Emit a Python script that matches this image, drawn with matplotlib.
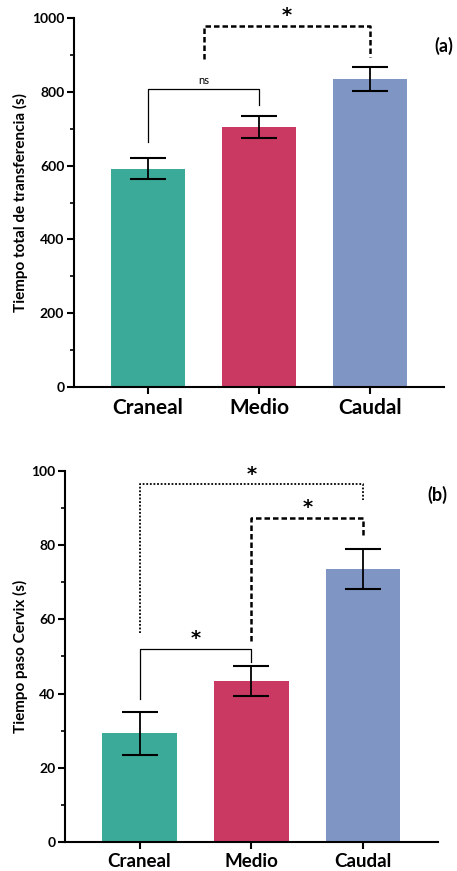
import numpy as np
import matplotlib.pyplot as plt

plt.rcParams['font.family'] = ['Lato', 'DejaVu Sans']

groups = ['Craneal', 'Medio', 'Caudal']
colors = ['#3caa98', '#c93962', '#7f95c4']

# panel (a): tiempo total de transferencia
total_mean = [592, 705, 834]
total_err = [28, 30, 33]

# panel (b): tiempo paso cervix
cervix_mean = [29.3, 43.4, 73.5]
cervix_err = [5.8, 4.0, 5.4]

fig = plt.figure(figsize=(4.57, 8.71), dpi=100)
ax1 = fig.add_axes([0.162, 0.5557, 0.8096, 0.4236])
ax2 = fig.add_axes([0.1422, 0.0330, 0.8156, 0.4266])


def style_axis(ax, ymax, major, xfs):
    x = np.arange(len(groups))
    ax.set_xlim(-0.667, 2.667)
    ax.set_ylim(0, ymax)
    ax.set_xticks(x)
    ax.set_xticklabels(groups, fontsize=xfs, fontweight='bold')
    ax.set_yticks(np.arange(0, ymax + 1, major))
    ax.set_yticks(np.arange(major / 2, ymax, major), minor=True)
    for lab in ax.get_yticklabels():
        lab.set_fontweight('bold')
        lab.set_fontsize(10)
    ax.spines['top'].set_visible(False)
    ax.spines['right'].set_visible(False)
    ax.spines['left'].set_linewidth(1.5)
    ax.spines['bottom'].set_linewidth(1.5)
    ax.tick_params(axis='both', which='major', length=5, width=1.5, pad=2)
    ax.tick_params(axis='y', which='minor', length=3, width=1.2)
    ax.tick_params(axis='x', pad=3)


def bracket(ax, x0, x1, y, y0, y1, ls, lw, label, ty, fs):
    ax.plot([x0, x0, x1, x1], [y0, y, y, y1], color='black', ls=ls, lw=lw, clip_on=False)
    if label == '*':
        ax.text((x0 + x1) / 2, ty, label, ha='center', va='center', fontsize=fs,
                fontweight='bold', family='DejaVu Sans', clip_on=False)
    else:
        ax.text((x0 + x1) / 2, ty, label, ha='center', va='center', fontsize=fs,
                clip_on=False)


x = np.arange(len(groups))

# --- (a)
ax1.bar(x, total_mean, width=0.667, color=colors, zorder=2)
ax1.errorbar(x, total_mean, yerr=total_err, fmt='none', ecolor='black',
             elinewidth=1.3, capsize=13, capthick=1.5, zorder=3)
style_axis(ax1, 1000, 200, 15)
ax1.set_ylabel('Tiempo total de transferencia (s)', fontsize=11, fontweight='bold', labelpad=3)
bracket(ax1, 0, 1, 809, 665, 764, '-', 0.9, 'ns', 832, 8)
bracket(ax1, 0.5, 2, 978, 889, 895, (0, (2.2, 1.2)), 1.8, '*', 1008, 14)
ax1.text(1.0, 0.925, '(a)', transform=ax1.transAxes, ha='center', va='center',
         fontsize=13, fontweight='bold')

# --- (b)
ax2.bar(x, cervix_mean, width=0.667, color=colors, zorder=2)
ax2.errorbar(x, cervix_mean, yerr=cervix_err, fmt='none', ecolor='black',
             elinewidth=1.3, capsize=13, capthick=1.5, zorder=3)
style_axis(ax2, 100, 20, 13.5)
ax2.set_ylabel('Tiempo paso Cervix (s)', fontsize=11, fontweight='bold', labelpad=2)
bracket(ax2, 0, 1, 51.9, 38.5, 48.4, '-', 0.9, '*', 54.8, 14)
bracket(ax2, 1, 2, 87.4, 54.2, 82, (0, (2.2, 1.2)), 1.8, '*', 90.1, 14)
bracket(ax2, 0, 2, 96.3, 56.4, 92.1, (0, (1, 1)), 1.3, '*', 99.1, 14)
ax2.text(1.0, 0.935, '(b)', transform=ax2.transAxes, ha='center', va='center',
         fontsize=13, fontweight='bold')

fig.savefig('out.png', dpi=100)
